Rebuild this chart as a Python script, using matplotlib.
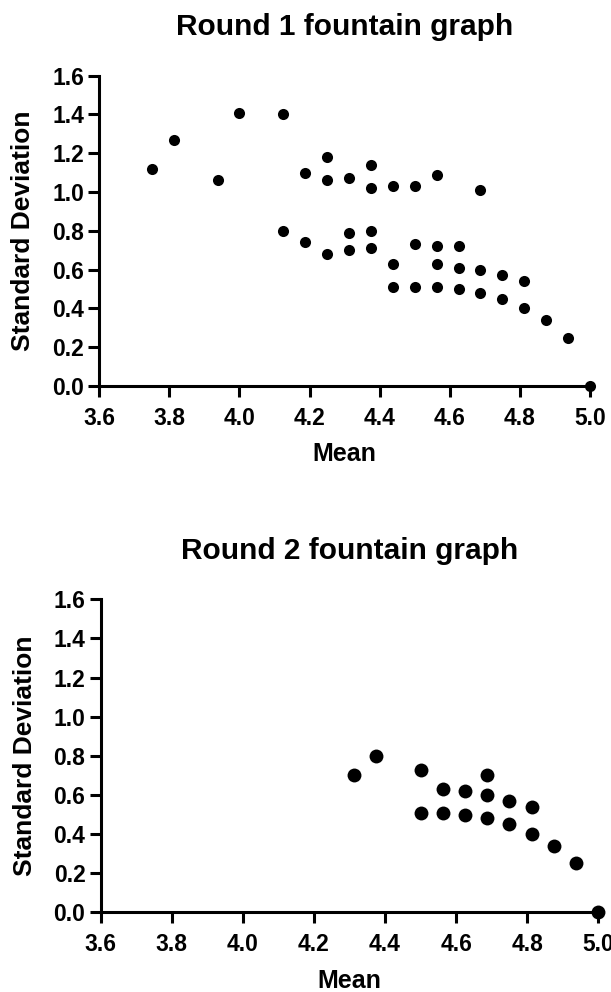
import matplotlib
matplotlib.use("Agg")
import matplotlib.pyplot as plt

plt.rcParams['font.family'] = ['Liberation Sans', 'DejaVu Sans']
plt.rcParams['font.weight'] = 'bold'

# Round 1 data (mean, standard deviation)
round1_mean = [
    3.75, 3.8125, 3.9375, 4.0, 4.125, 4.1875, 4.25, 4.25,
    4.125, 4.1875, 4.25,
    4.3125, 4.375, 4.375, 4.4375, 4.5, 4.5625, 4.6875,
    4.3125, 4.3125, 4.375, 4.375,
    4.4375, 4.4375, 4.5, 4.5, 4.5625, 4.5625, 4.5625,
    4.625, 4.625, 4.625, 4.6875, 4.6875, 4.75, 4.75,
    4.8125, 4.8125, 4.875, 4.9375, 5.0,
]
round1_sd = [
    1.12, 1.27, 1.06, 1.41, 1.40, 1.10, 1.18, 1.06,
    0.80, 0.74, 0.68,
    1.07, 1.14, 1.02, 1.03, 1.03, 1.09, 1.01,
    0.79, 0.70, 0.80, 0.71,
    0.63, 0.51, 0.73, 0.51, 0.72, 0.63, 0.51,
    0.72, 0.61, 0.50, 0.60, 0.48, 0.57, 0.45,
    0.54, 0.40, 0.34, 0.25, 0.0,
]

# Round 2 data
round2_mean = [
    4.3125, 4.375, 4.5, 4.5, 4.5625, 4.5625, 4.625, 4.625,
    4.6875, 4.6875, 4.6875, 4.75, 4.75, 4.8125, 4.8125,
    4.875, 4.9375, 5.0,
]
round2_sd = [
    0.70, 0.80, 0.73, 0.51, 0.63, 0.51, 0.62, 0.50,
    0.70, 0.60, 0.48, 0.57, 0.45, 0.54, 0.40,
    0.34, 0.25, 0.0,
]

x_ticks = [3.6, 3.8, 4.0, 4.2, 4.4, 4.6, 4.8, 5.0]
y_ticks = [0.0, 0.2, 0.4, 0.6, 0.8, 1.0, 1.2, 1.4, 1.6]

fig = plt.figure(figsize=(6.11, 9.92), dpi=100, facecolor='white')
ax1 = fig.add_axes([0.1625, 0.6109, 0.8031, 0.3128])
ax2 = fig.add_axes([0.1648, 0.0803, 0.8144, 0.3156])


def style(ax, title, mean, sd, size):
    ax.scatter(mean, sd, s=size, color='black', zorder=3, clip_on=False,
               linewidths=0)
    ax.set_xlim(3.6, 5.0)
    ax.set_ylim(0, 1.6)
    ax.set_xticks(x_ticks)
    ax.set_yticks(y_ticks)
    ax.set_xticklabels([f"{t:.1f}" for t in x_ticks])
    ax.set_yticklabels([f"{t:.1f}" for t in y_ticks])
    for side in ('top', 'right'):
        ax.spines[side].set_visible(False)
    for side in ('left', 'bottom'):
        ax.spines[side].set_linewidth(2.2)
    ax.tick_params(direction='out', length=8, width=2.2, labelsize=16.5)
    ax.tick_params(axis='x', pad=7)
    ax.tick_params(axis='y', pad=3)
    for lab in ax.get_xticklabels() + ax.get_yticklabels():
        lab.set_fontweight('bold')
    ax.set_xlabel("Mean", fontsize=18, fontweight='bold', labelpad=9)
    ax.set_ylabel("Standard Deviation", fontsize=19, fontweight='bold',
                  labelpad=12)
    ax.set_title(title, fontsize=21.5, fontweight='bold', pad=29)


style(ax1, "Round 1 fountain graph", round1_mean, round1_sd, 64)
style(ax2, "Round 2 fountain graph", round2_mean, round2_sd, 100)

plt.savefig("out.png", dpi=100, facecolor='white')
